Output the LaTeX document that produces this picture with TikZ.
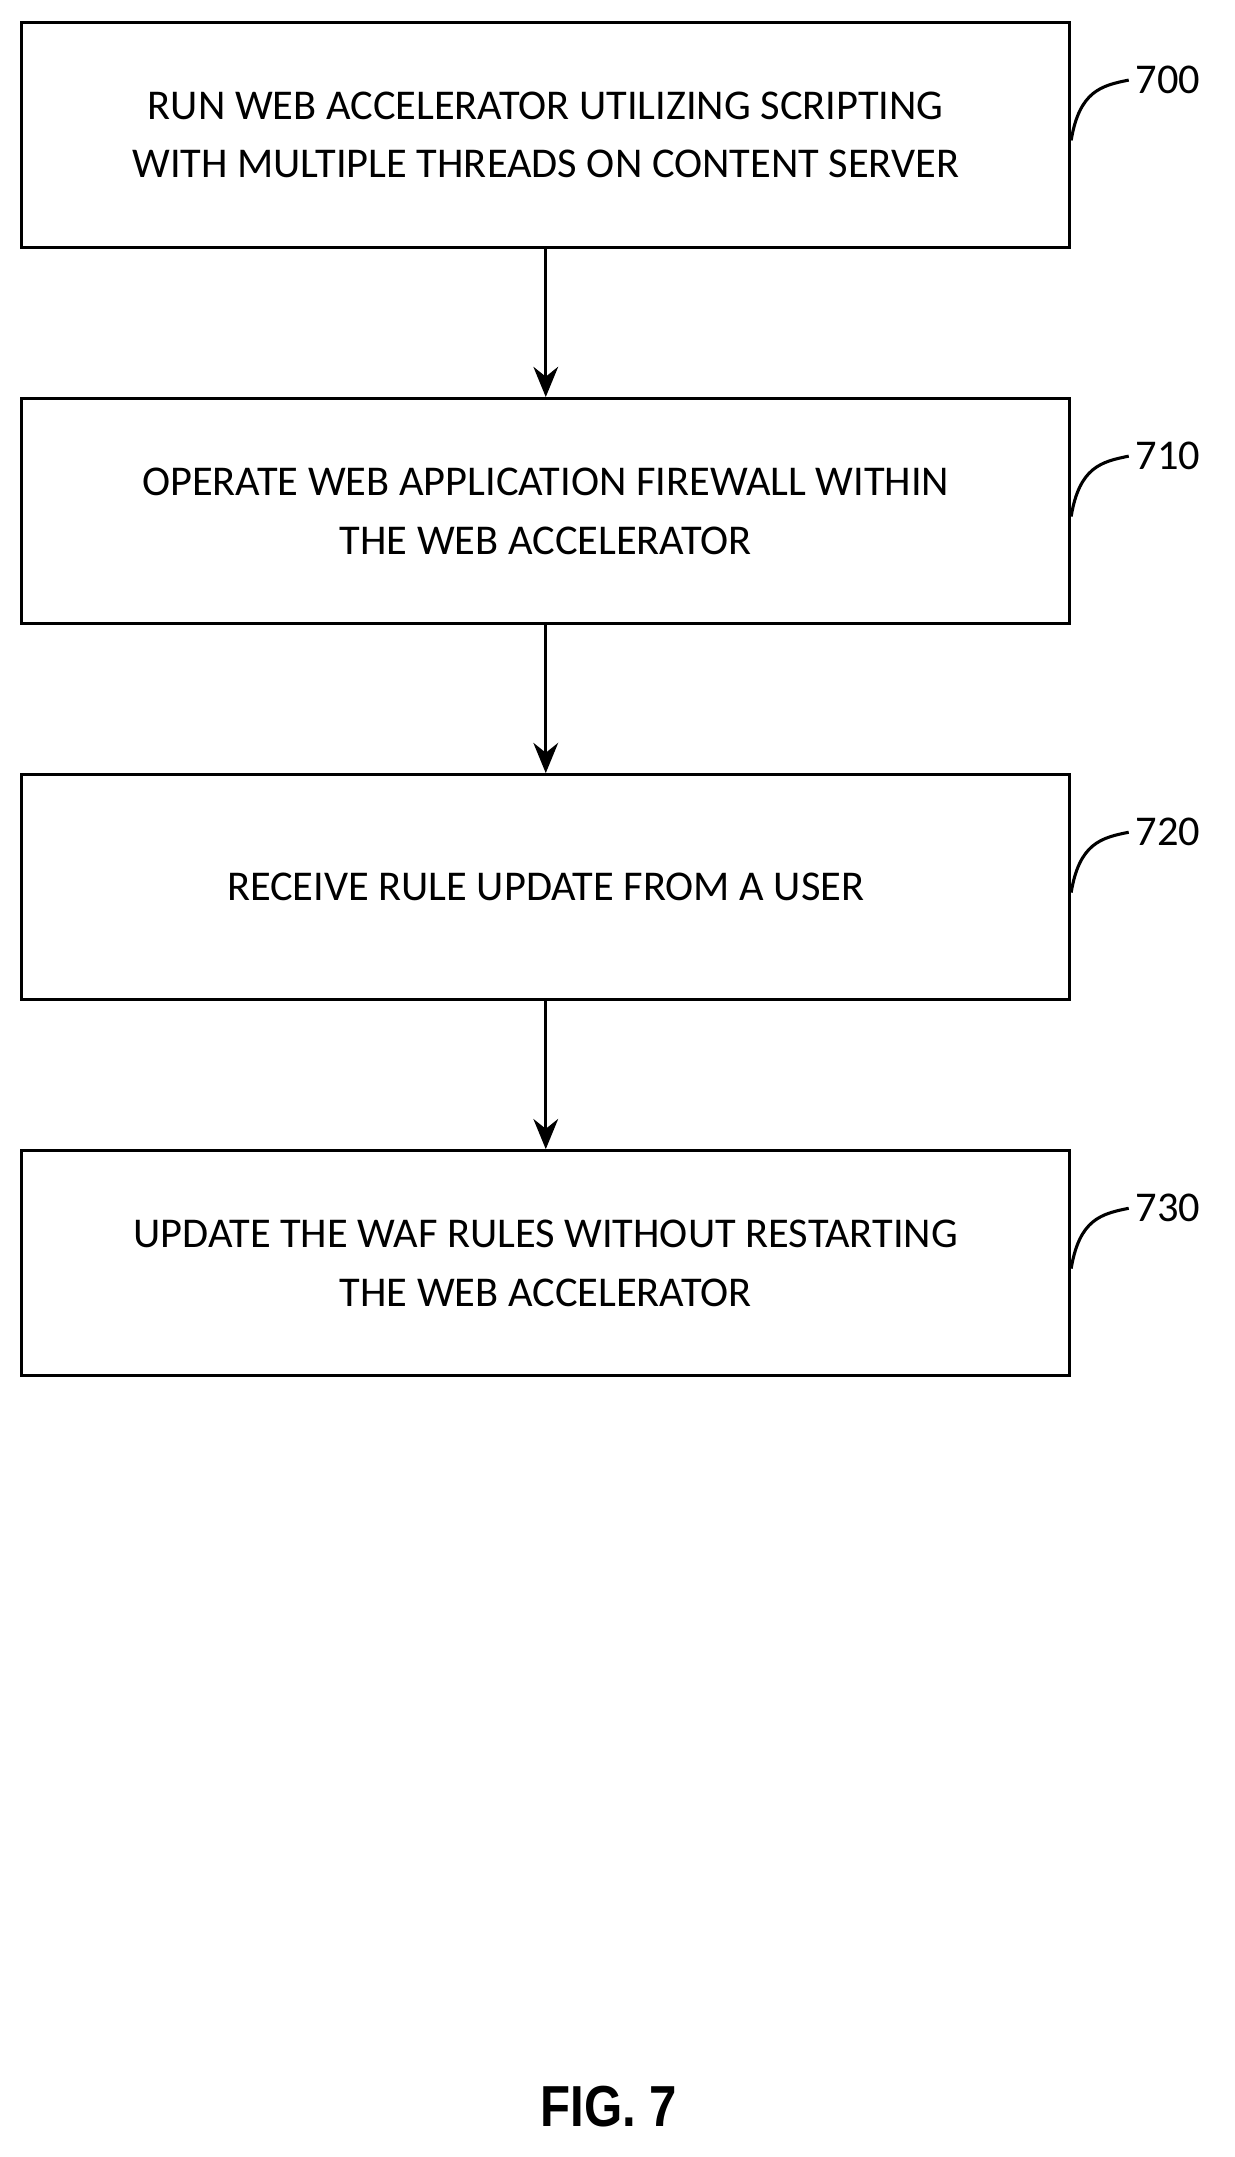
\documentclass[tikz,border=0pt]{standalone}
\usepackage{fontspec}
\setmainfont{Carlito}
\newfontfamily\figfont{Liberation Sans}
\usetikzlibrary{positioning,arrows.meta}
\begin{document}
\begin{tikzpicture}
[process/.style={draw=black, line width=1.6pt, minimum width=19.1cm, minimum height=4.1cm, align=center, font=\fontsize{22}{30.5}\selectfont, inner sep=0pt},
arrow/.style={line width=1.6pt, -{Stealth[length=0.55cm, width=0.45cm]}},
ref/.style={font=\fontsize{22}{26}\selectfont, anchor=west},
node distance=2.7cm]
\useasboundingbox (0,0) rectangle (22.5,-39.325);
\node (run) [process] at (9.95,-2.46) {RUN WEB ACCELERATOR UTILIZING SCRIPTING\\WITH MULTIPLE THREADS ON CONTENT SERVER};
\node (operate) [process, below=of run] {OPERATE WEB APPLICATION FIREWALL WITHIN\\THE WEB ACCELERATOR};
\node (receive) [process, below=of operate] {RECEIVE RULE UPDATE FROM A USER};
\node (update) [process, below=of receive] {UPDATE THE WAF RULES WITHOUT RESTARTING\\THE WEB ACCELERATOR};

\draw[arrow] (run) -- (operate);
\draw[arrow] (operate) -- (receive);
\draw[arrow] (receive) -- (update);

% reference numerals
\foreach \blk/\num in {run/700, operate/710, receive/720, update/730}{
  \node (n\num) [ref] at ([xshift=1.05cm, yshift=1.0cm]\blk.east) {\num};
  \draw[line width=1.6pt] ([yshift=-0.1cm]\blk.east) .. controls +(0.15,0.9) and +(-0.5,-0.1) .. (n\num.west);
}

\node (fig) [font=\figfont\bfseries\fontsize{30}{34}\selectfont] at (11.1,-38.4) {\scalebox{0.85}[1]{FIG. 7}};
\end{tikzpicture}
\end{document}
